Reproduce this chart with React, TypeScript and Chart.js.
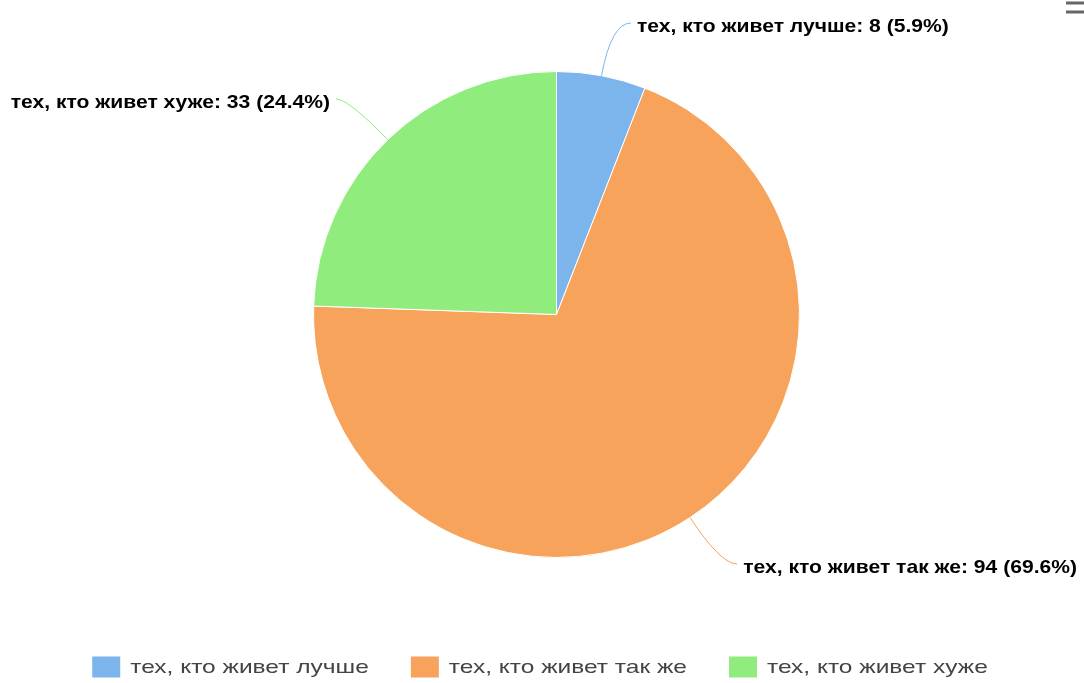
import React, { useEffect, useRef } from 'react';
import { Chart, registerables } from 'chart.js';

Chart.register(...registerables);

const categories = ['тех, кто живет лучше', 'тех, кто живет так же', 'тех, кто живет хуже'];
const values = [8, 94, 33];
const colors = ['#7cb5ec', '#f7a35c', '#90ed7d'];

const LABEL_FONT = 'bold 19px "Liberation Sans", Arial, sans-serif';
const LABEL_SX = 1.11;
const LEGEND_FONT = '19px "Liberation Sans", Arial, sans-serif';
const LEGEND_SX = 1.29;

const labelAnchors = [
  { x: 637, y: 27, align: 'left' },
  { x: 1077, y: 568, align: 'right-end' },
  { x: 330, y: 103, align: 'right' },
];

function drawStretched(ctx: CanvasRenderingContext2D, text: string, x: number, y: number, sx: number) {
  ctx.save();
  ctx.translate(x, y);
  ctx.scale(sx, 1);
  ctx.fillText(text, 0, 0);
  ctx.restore();
}

const pieLabelsPlugin = {
  id: 'pieLabels',
  afterDatasetsDraw(chart: any) {
    const ctx = chart.ctx;
    const meta = chart.getDatasetMeta(0);
    const data = chart.data.datasets[0].data as number[];
    const total = data.reduce((a, b) => a + b, 0);
    ctx.save();
    ctx.font = LABEL_FONT;
    ctx.textBaseline = 'middle';
    ctx.textAlign = 'left';
    meta.data.forEach((arc: any, i: number) => {
      const label = chart.data.labels[i];
      const v = data[i];
      const pct = ((v / total) * 100).toFixed(1);
      const text = `${label}: ${v} (${pct}%)`;
      const w = ctx.measureText(text).width * LABEL_SX;
      const a = labelAnchors[i];
      let left: number;
      let right: boolean;
      if (a.align === 'left') { left = a.x; right = true; }
      else if (a.align === 'right-end') { left = a.x - w; right = true; }
      else { left = a.x - w; right = false; }
      const mid = (arc.startAngle + arc.endAngle) / 2;
      const r = arc.outerRadius;
      const p0x = arc.x + Math.cos(mid) * r;
      const p0y = arc.y + Math.sin(mid) * r;
      const ly = a.y - 4;
      const t = Math.abs((ly - p0y) / Math.sin(mid));
      const cx = p0x + Math.cos(mid) * t;
      const ex = right ? left - 6 : left + w + 6;
      ctx.strokeStyle = colors[i];
      ctx.lineWidth = 1;
      ctx.beginPath();
      ctx.moveTo(p0x, p0y);
      ctx.quadraticCurveTo(cx, ly, ex, ly);
      ctx.stroke();
      ctx.fillStyle = '#000000';
      drawStretched(ctx, text, left, a.y, LABEL_SX);
    });
    ctx.restore();
  },
};

const legendPlugin = {
  id: 'customLegend',
  afterDraw(chart: any) {
    const ctx = chart.ctx;
    ctx.save();
    ctx.font = LEGEND_FONT;
    ctx.textBaseline = 'middle';
    ctx.textAlign = 'left';
    const boxW = 28;
    const boxH = 21;
    const gapBoxText = 10;
    const itemGap = 42;
    const labels = chart.data.labels as string[];
    const widths = labels.map((l) => ctx.measureText(l).width * LEGEND_SX);
    const total = widths.reduce((s, w) => s + boxW + gapBoxText + w, 0) + itemGap * (labels.length - 1);
    let x = (chart.width - total) / 2 - 2;
    const y = 667;
    labels.forEach((l, i) => {
      ctx.fillStyle = colors[i];
      ctx.fillRect(x, y - boxH / 2, boxW, boxH);
      ctx.fillStyle = '#444444';
      drawStretched(ctx, l, x + boxW + gapBoxText, y + 1, LEGEND_SX);
      x += boxW + gapBoxText + widths[i] + itemGap;
    });
    // menu icon
    ctx.strokeStyle = '#666666';
    ctx.lineWidth = 3;
    ctx.beginPath();
    ctx.moveTo(1066, 3); ctx.lineTo(1084, 3);
    ctx.moveTo(1066, 12); ctx.lineTo(1084, 12);
    ctx.stroke();
    ctx.restore();
  },
};

export default function App() {
  const ref = useRef<HTMLCanvasElement | null>(null);
  useEffect(() => {
    if (!ref.current) return;
    const chart = new Chart(ref.current, {
      type: 'pie',
      data: {
        labels: categories,
        datasets: [
          {
            data: values,
            backgroundColor: colors,
            borderColor: '#ffffff',
            borderWidth: 1,
          },
        ],
      },
      options: {
        responsive: false,
        animation: false,
        layout: { padding: { left: 313, right: 284, top: 71, bottom: 125 } },
        plugins: {
          legend: { display: false },
          tooltip: { enabled: false },
        },
      },
      plugins: [pieLabelsPlugin, legendPlugin],
    });
    return () => chart.destroy();
  }, []);
  return (
    <div style={{ position: 'absolute', left: 0, top: 0, width: 1084, height: 683, background: '#fff' }}>
      <canvas ref={ref} width={1084} height={683} style={{ display: 'block' }} />
    </div>
  );
}
